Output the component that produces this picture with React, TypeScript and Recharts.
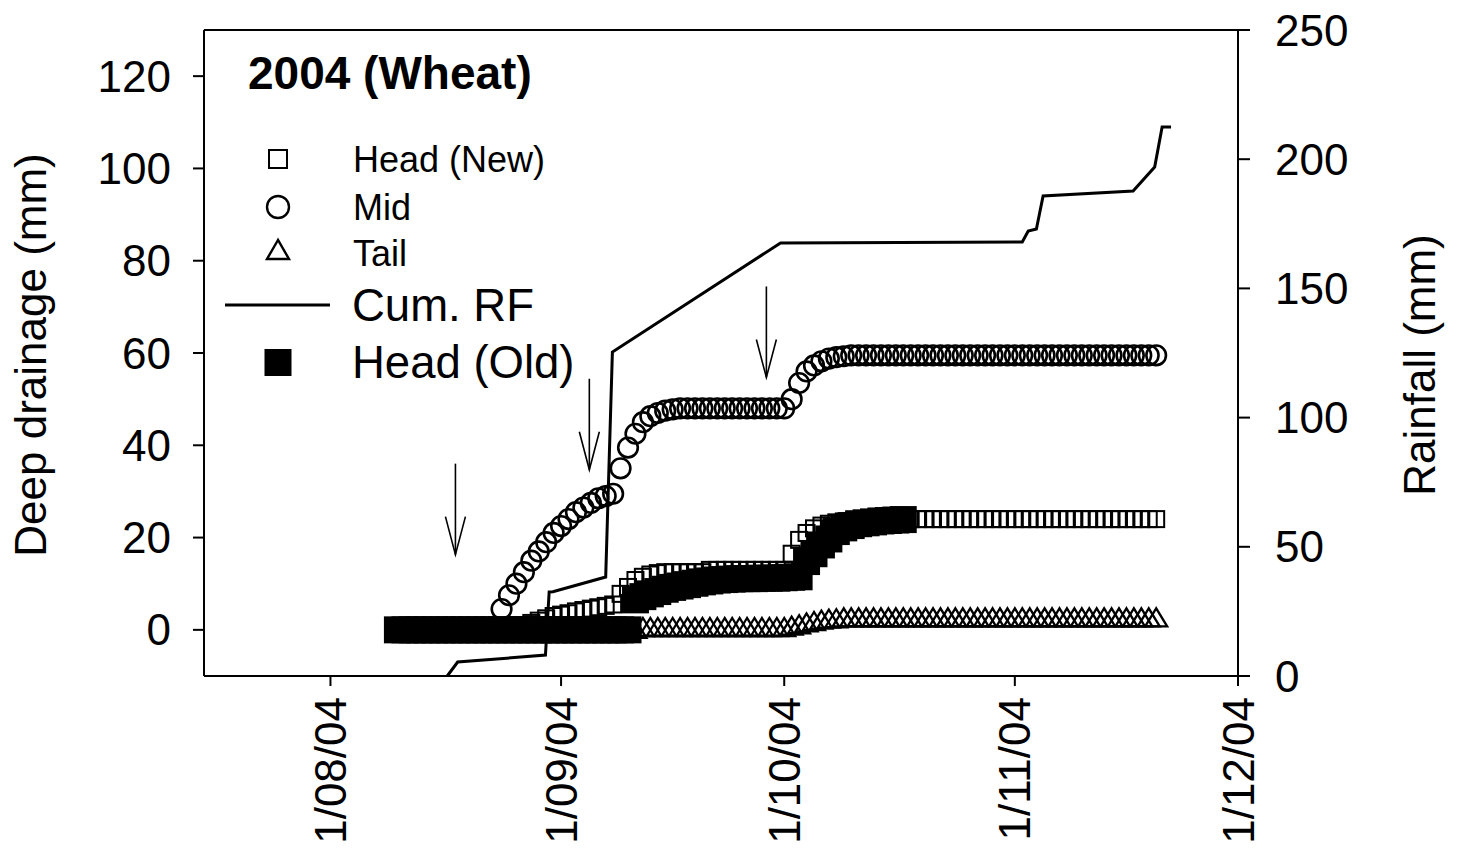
import { ComposedChart, Scatter, Line, XAxis, YAxis, ReferenceLine } from "recharts";

const FONT = '"Liberation Sans", Arial, Helvetica, sans-serif';

// days are counted from 1 Aug 2004; the drainage series are daily from 9 Aug
const firstDay = 9;

const headNew = [
  0, 0, 0, 0, 0, 0, 0, 0, 0, 0, 0, 0, 0, 0, 0, 0,
  0.5, 1, 1.5, 2, 2.5, 3, 3.3, 3.6, 4, 4.3, 4.6, 4.9, 5.2, 5.5, 7.8, 9.3, 10.8, 11.5, 12, 12.3,
  12.5, 12.5, 12.5, 12.5, 12.5, 12.5,
  13, 13, 13, 13, 13, 13, 13, 13, 13, 13, 13,
  16.5, 19.5, 21, 22, 22.6, 23, 23.3, 23.5, 23.6, 23.7, 23.8, 23.9,
  24, 24, 24, 24, 24, 24, 24, 24, 24, 24, 24, 24, 24, 24, 24, 24, 24, 24, 24,
  24, 24, 24, 24, 24, 24, 24, 24, 24, 24, 24, 24, 24, 24, 24, 24, 24, 24, 24,
];

const mid = [
  0, 0, 0, 0, 0, 0, 0, 0, 0, 0, 0, 0, 0, 0,
  4.5, 7.5, 10, 12.5, 15, 17, 19, 21, 22.5, 24, 25.5, 26.5, 27.5, 28.5, 29, 29.5,
  35, 39.5, 42.5, 45, 46.3, 47, 47.5, 47.8,
  48, 48, 48, 48, 48, 48, 48, 48, 48, 48, 48, 48, 48, 48, 48,
  50, 53.5, 56, 57.3, 58.2, 58.8, 59.1, 59.3,
  59.5, 59.5, 59.5, 59.5, 59.5, 59.5, 59.5, 59.5, 59.5, 59.5, 59.5, 59.5, 59.5, 59.5,
  59.5, 59.5, 59.5, 59.5, 59.5, 59.5, 59.5, 59.5, 59.5, 59.5, 59.5, 59.5, 59.5, 59.5,
  59.5, 59.5, 59.5, 59.5, 59.5, 59.5, 59.5, 59.5, 59.5, 59.5, 59.5, 59.5, 59.5, 59.5,
];

const tail = [
  0, 0, 0, 0, 0, 0, 0, 0, 0, 0, 0, 0, 0, 0, 0, 0, 0, 0, 0, 0, 0, 0, 0, 0, 0, 0, 0, 0, 0, 0, 0, 0, 0,
  0.4, 0.4, 0.4, 0.4, 0.4, 0.4, 0.4, 0.4, 0.4, 0.4, 0.4, 0.4, 0.4, 0.4, 0.4, 0.4, 0.4, 0.4, 0.4, 0.4,
  0.7, 1, 1.4, 1.7, 2, 2.2, 2.3,
  2.5, 2.5, 2.5, 2.5, 2.5, 2.5, 2.5, 2.5, 2.5, 2.5, 2.5, 2.5, 2.5, 2.5, 2.5, 2.5, 2.5, 2.5, 2.5, 2.5, 2.5,
  2.5, 2.5, 2.5, 2.5, 2.5, 2.5, 2.5, 2.5, 2.5, 2.5, 2.5, 2.5, 2.5, 2.5, 2.5, 2.5, 2.5, 2.5, 2.5, 2.5, 2.5, 2.5,
];

const headOld = [
  0, 0, 0, 0, 0, 0, 0, 0, 0, 0, 0, 0, 0, 0, 0, 0, 0, 0, 0, 0, 0, 0, 0, 0, 0, 0, 0, 0, 0, 0, 0, 0,
  6.5, 7.2, 7.8, 8.3, 8.8, 9.2, 9.5, 9.8, 10.1, 10.4, 10.6, 10.8, 10.9, 11, 11.1, 11.1, 11.1, 11.2, 11.2,
  11.2, 11.3, 11.4, 11.5,
  14.8, 16.5, 18.4, 19.7, 21.3, 22.1, 22.6, 23, 23.2, 23.4, 23.6, 23.7, 23.8, 23.9,
];

// cumulative rainfall (right axis)
const rainDays = [15.7, 17.1, 28.9, 29.4, 29.9, 37.0, 37.9, 60.5, 93.0, 93.8, 94.9, 95.8, 107.9, 110.8, 111.8, 113.0];
const rainCum = [0, 5.4, 8.1, 32.5, 32.6, 38.3, 125.4, 167.6, 168.0, 172.2, 173.0, 185.8, 187.7, 197.0, 212.5, 212.5];

// irrigation arrows (tip position)
const arrowDays = [16.8, 34.8, 58.6];
const arrowTips = [16.3, 34.7, 54.7];

const xTicks = [0, 31, 61, 92, 122];
const xTickLabels = ["1/08/04", "1/09/04", "1/10/04", "1/11/04", "1/12/04"];
const leftTicks = [0, 20, 40, 60, 80, 100, 120];
const rightTicks = [0, 50, 100, 150, 200, 250];

const title = "2004 (Wheat)";
const legendNames = ["Head (New)", "Mid", "Tail", "Cum. RF", "Head (Old)"];

const toPoints = (vals: number[]) => vals.map((v, i) => ({ day: firstDay + i, v }));
const rainPts = rainDays.map((d, i) => ({ day: d, rf: rainCum[i] }));
const arrowPts = arrowDays.map((d, i) => ({ day: d, v: arrowTips[i] }));

const OpenSquare = (p: any) => (
  <rect x={p.cx - 8} y={p.cy - 8} width={16} height={16} fill="none" stroke="#000" strokeWidth={2} />
);
const OpenCircle = (p: any) => (
  <circle cx={p.cx} cy={p.cy} r={9.8} fill="none" stroke="#000" strokeWidth={2.6} />
);
const OpenTriangle = (p: any) => (
  <polygon
    points={`${p.cx},${p.cy - 10} ${p.cx - 11},${p.cy + 8} ${p.cx + 11},${p.cy + 8}`}
    fill="none"
    stroke="#000"
    strokeWidth={2.3}
  />
);
const FilledSquare = (p: any) => (
  <rect x={p.cx - 13.5} y={p.cy - 13.5} width={27} height={27} fill="#000" />
);
const Arrow = (p: any) => (
  <g stroke="#000" strokeWidth={1.6} fill="none">
    <line x1={p.cx} y1={p.cy - 91} x2={p.cx} y2={p.cy} />
    <polyline points={`${p.cx - 10},${p.cy - 38} ${p.cx},${p.cy} ${p.cx + 10},${p.cy - 38}`} />
  </g>
);

const XTick = (p: any) => {
  const label = xTickLabels[xTicks.indexOf(p.payload.value)];
  const bx = p.x + 15.5;
  return (
    <text
      x={bx}
      y={p.y}
      transform={`rotate(-90, ${bx}, ${p.y})`}
      textAnchor="end"
      fontSize={44}
      fontFamily={FONT}
      fill="#000"
    >
      {label}
    </text>
  );
};

const axisStyle = { stroke: "#000", strokeWidth: 2 };
const tickFont = { fontSize: 44, fill: "#000", fontFamily: FONT };

export default function App() {
  return (
    <div style={{ position: "absolute", left: 0, top: 0, width: 1463, height: 850, background: "#fff" }}>
      <ComposedChart width={1463} height={850} margin={{ top: 30, right: 0, bottom: 0, left: 0 }}>
        <XAxis
          type="number"
          dataKey="day"
          domain={[-17, 122]}
          ticks={xTicks}
          height={174}
          tickSize={10}
          tickMargin={11}
          axisLine={axisStyle}
          tickLine={axisStyle}
          tick={<XTick />}
        />
        <YAxis
          yAxisId="left"
          dataKey="v"
          type="number"
          domain={[-10, 130]}
          ticks={leftTicks}
          width={204}
          tickSize={11}
          tickMargin={22}
          axisLine={axisStyle}
          tickLine={axisStyle}
          tick={tickFont}
        />
        <YAxis
          yAxisId="right"
          orientation="right"
          dataKey="rf"
          type="number"
          domain={[0, 250]}
          ticks={rightTicks}
          width={225}
          tickSize={12}
          tickMargin={25}
          axisLine={axisStyle}
          tickLine={axisStyle}
          tick={tickFont}
        />
        <ReferenceLine yAxisId="left" y={130} stroke="#000" strokeWidth={2} />
        <Line
          yAxisId="right"
          data={rainPts}
          dataKey="rf"
          type="linear"
          stroke="#000"
          strokeWidth={3}
          dot={false}
          isAnimationActive={false}
        />
        <Scatter yAxisId="left" data={toPoints(tail)} shape={OpenTriangle} isAnimationActive={false} />
        <Scatter yAxisId="left" data={toPoints(headNew)} shape={OpenSquare} isAnimationActive={false} />
        <Scatter yAxisId="left" data={toPoints(mid)} shape={OpenCircle} isAnimationActive={false} />
        <Scatter yAxisId="left" data={toPoints(headOld)} shape={FilledSquare} isAnimationActive={false} />
        <Scatter yAxisId="left" data={arrowPts} shape={Arrow} isAnimationActive={false} />
      </ComposedChart>

      <svg
        width={1463}
        height={850}
        style={{ position: "absolute", left: 0, top: 0, pointerEvents: "none" }}
        fontFamily={FONT}
      >
        <text x={248} y={89} fontSize={46} fontWeight="bold">{title}</text>

        <rect x={269} y={150} width={18} height={18} fill="none" stroke="#000" strokeWidth={2} />
        <text x={353} y={172} fontSize={36}>{legendNames[0]}</text>

        <circle cx={278} cy={207} r={11} fill="none" stroke="#000" strokeWidth={2.4} />
        <text x={353} y={220} fontSize={36}>{legendNames[1]}</text>

        <polygon points="278,240 267,259 289,259" fill="none" stroke="#000" strokeWidth={2.4} />
        <text x={353} y={265.5} fontSize={36}>{legendNames[2]}</text>

        <line x1={225} y1={305} x2={330} y2={305} stroke="#000" strokeWidth={3} />
        <text x={352} y={320.5} fontSize={45.5}>{legendNames[3]}</text>

        <rect x={264.5} y={349} width={27} height={27} fill="#000" />
        <text x={352} y={377.5} fontSize={45.5}>{legendNames[4]}</text>

        <text x={46} y={355} transform="rotate(-90, 46, 355)" textAnchor="middle" fontSize={44}>
          Deep drainage (mm)
        </text>
        <text x={1435} y={365} transform="rotate(-90, 1435, 365)" textAnchor="middle" fontSize={44}>
          Rainfall (mm)
        </text>
      </svg>
    </div>
  );
}
